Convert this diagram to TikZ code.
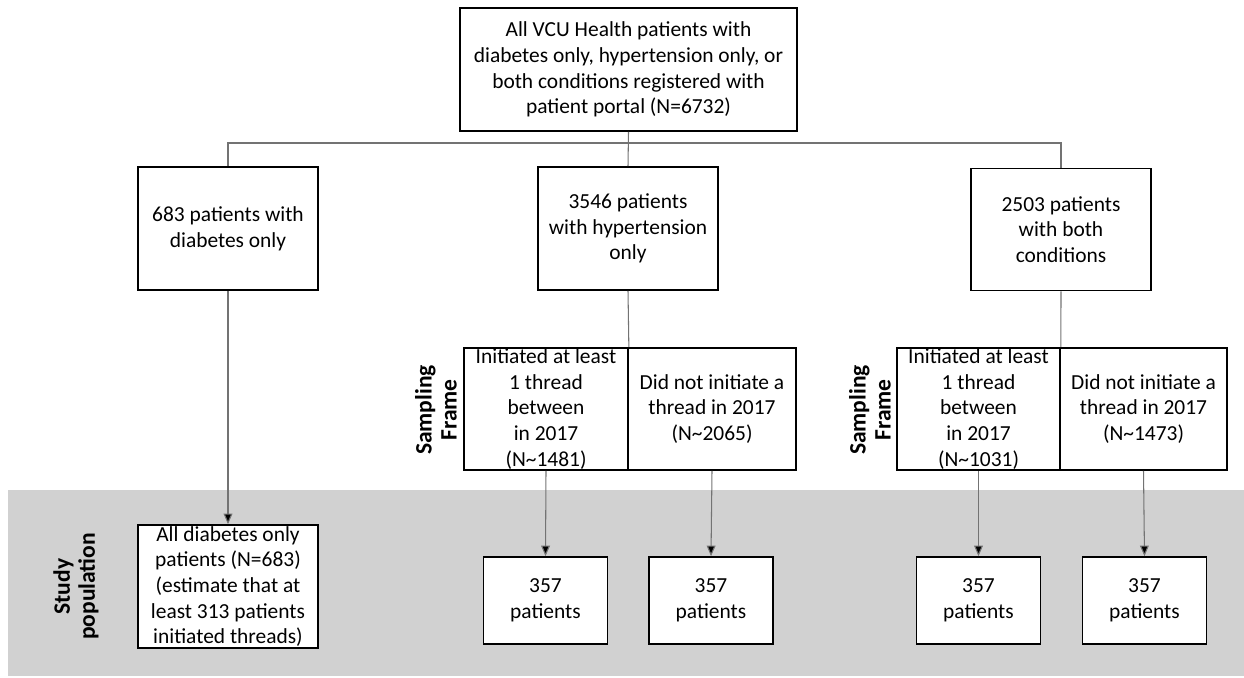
\documentclass[tikz,border=0pt]{standalone}
\usepackage{fontspec}
\setmainfont{Carlito}
\usepackage{tikz}
\usetikzlibrary{arrows.meta}
\definecolor{bandgray}{RGB}{209,209,209}
\definecolor{linegray}{RGB}{115,115,115}
\tikzset{
	box/.style={draw=black,line width=1pt,fill=white,inner sep=0pt,align=center,
		font=\fontsize{12.2}{14.6}\selectfont},
	framebox/.style={box,minimum height=2.44cm},
	pickbox/.style={box,minimum width=2.48cm,minimum height=1.74cm},
	sidelabel/.style={rotate=90,align=center,font=\fontsize{13.4}{14.2}\selectfont\bfseries},
	link/.style={draw=linegray,line width=0.6pt},
	arrow/.style={link,-{Triangle[length=6pt,width=5pt,fill=black]}},
}

\begin{document}
\begin{tikzpicture}[x=0.02cm,y=-0.02cm]
	\useasboundingbox (0,0) rectangle (1244,677);
	% grey band behind the study population
	\fill[bandgray] (8,490) rectangle (1244,676);
	
	% population boxes
	\node[box,minimum width=6.74cm,minimum height=2.46cm] (top) at (628.5,69.5)
		{All VCU Health patients with\\diabetes only, hypertension only, or\\both conditions registered with\\patient portal (N=6732)};
	\node[box,minimum width=3.6cm,minimum height=2.46cm] (diab) at (228,228.5)
		{683 patients with\\diabetes only};
	\node[box,minimum width=3.6cm,minimum height=2.46cm] (hyper) at (628,228.5)
		{3546 patients\\with hypertension\\only};
	\node[box,minimum width=3.6cm,minimum height=2.44cm] (both) at (1061,229.5)
		{2503 patients\\with both\\conditions};
	
	% sampling frames
	\node[framebox,minimum width=3.28cm] (hinit) at (546,409)
		{Initiated at least\\1 thread\\between\\in 2017\\(N\textasciitilde1481)};
	\node[framebox,minimum width=3.36cm] (hnone) at (712,409)
		{Did not initiate a\\thread in 2017\\(N\textasciitilde2065)};
	\node[framebox,minimum width=3.26cm] (binit) at (978.5,409)
		{Initiated at least\\1 thread\\between\\in 2017\\(N\textasciitilde1031)};
	\node[framebox,minimum width=3.34cm] (bnone) at (1143.5,409)
		{Did not initiate a\\thread in 2017\\(N\textasciitilde1473)};
	
	% study population
	\node[box,minimum width=3.6cm,minimum height=2.46cm] (all) at (228,586.5)
		{All diabetes only\\patients (N=683)\\(estimate that at\\least 313 patients\\initiated threads)};
	\node[pickbox] (hpick) at (545.5,600.5) {357\\patients};
	\node[pickbox] (hrest) at (711,600.5) {357\\patients};
	\node[pickbox] (bpick) at (978.5,600.5) {357\\patients};
	\node[pickbox] (brest) at (1144.5,600.5) {357\\patients};
	
	% side labels
	\node[sidelabel] (hframe) at (436,410) {Sampling\\Frame};
	\node[sidelabel] (bframe) at (870,410) {Sampling\\Frame};
	\node[sidelabel] (study) at (76,586.5) {Study\\population};
	
	% connectors
	\coordinate (bus) at (628,143);
	\draw[link] (top.south) -- (hyper.north);
	\draw[link] (diab.north) |- (bus) -| (both.north);
	\draw[arrow] (diab.south) -- (all.north);
	\draw[link] (hyper.south) -- (hinit.north east);
	\draw[link] (both.south) -- (binit.north east);
	\draw[arrow] (hinit.south) -- (hpick.north);
	\draw[arrow] (hnone.south) -- (hrest.north);
	\draw[arrow] (binit.south) -- (bpick.north);
	\draw[arrow] (bnone.south) -- (brest.north);
	
\end{tikzpicture}
\end{document}
